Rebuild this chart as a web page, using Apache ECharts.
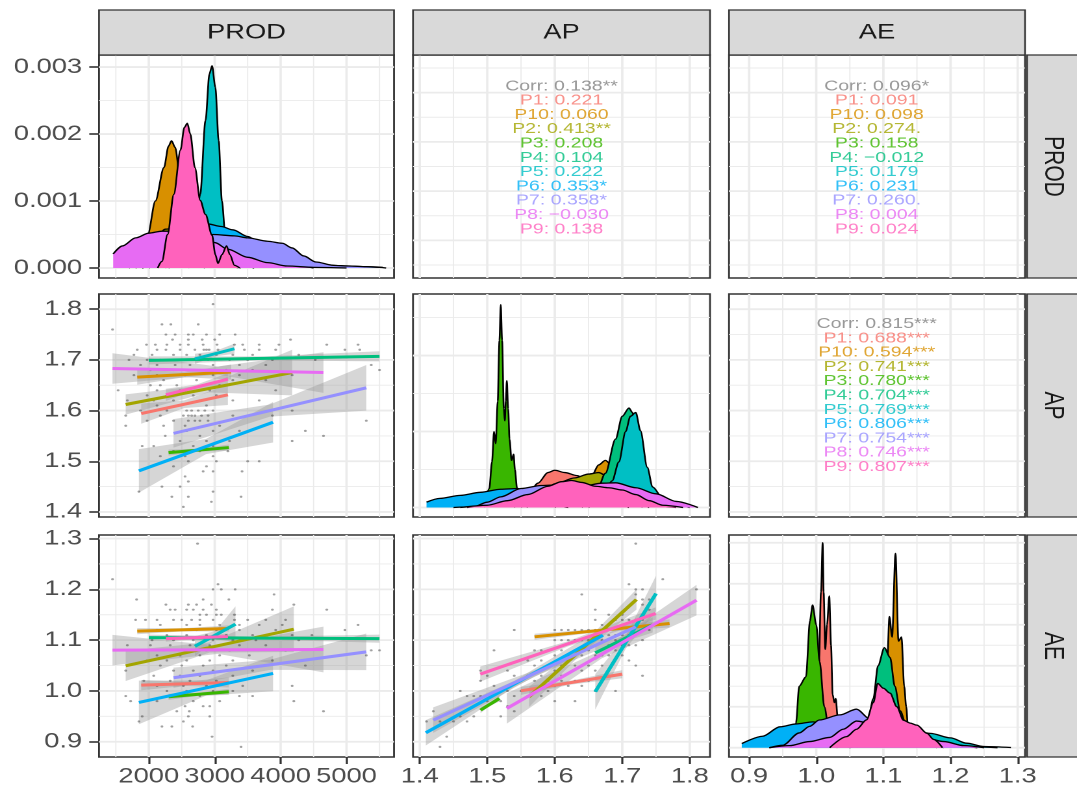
<!DOCTYPE html>
<html>
<head>
<meta charset="utf-8">
<script src="https://cdn.jsdelivr.net/npm/echarts@6.0.0/dist/echarts.min.js"></script>
<style>
  html, body { margin: 0; padding: 0; background: #fff; overflow: hidden; }
  /* the reference is stretched sideways, so the chart is drawn narrower and scaled */
  #main { width: 829px; height: 792px; transform: scaleX(1.29916); transform-origin: 0 0; }
</style>
</head>
<body>
<div id="main"></div>
<script>
var vars = ["PROD", "AP", "AE"];
var groups = ["P1", "P10", "P2", "P3", "P4", "P5", "P6", "P7", "P8", "P9"];
var colors = ["#F8766D", "#D89000", "#A3A500", "#39B600", "#00BF7D", "#00BFC4", "#00B0F6", "#9590FF", "#E76BF3", "#FF62BC"];

// tick labels
var prodTicks = [2000, 3000, 4000, 5000];
var apTicks = [1.4, 1.5, 1.6, 1.7, 1.8];
var aeTicks = [0.9, 1.0, 1.1, 1.2, 1.3];
var densTicks = [0, 0.001, 0.002, 0.003];

// correlation text (overall first, then groups)
var corrProdAp = ["0.138**", "0.221", "0.060", "0.413**", "0.208", "0.104", "0.222", "0.353*", "0.358*", "\u22120.030", "0.138"];
var corrProdAe = ["0.096*", "0.091", "0.098", "0.274.", "0.158", "\u22120.012", "0.179", "0.231", "0.260.", "0.004", "0.024"];
var corrApAe = ["0.815***", "0.688***", "0.594***", "0.741***", "0.780***", "0.704***", "0.769***", "0.806***", "0.754***", "0.746***", "0.807***"];

// densities, one list of [x, density] per group
var densProd = [
  [[1800,0],[2000,0.0002],[2200,0.0004],[2400,0.0005],[2600,0.0005],[2800,0.0004],[3000,0.00025],[3200,0.0001],[3400,0]],
  [[1800,0],[1900,0.0001],[1985,0.0005],[2100,0.001],[2230,0.0015],[2300,0.00182],[2345,0.0019],[2400,0.0018],[2470,0.0014],[2560,0.0008],[2650,0.0003],[2750,0.0001],[2850,0]],
  [[1700,0],[1900,0.0002],[2100,0.00045],[2250,0.00058],[2450,0.0006],[2700,0.00055],[2900,0.0004],[3100,0.0002],[3400,0.00005],[3600,0]],
  [[2250,0],[2400,0.0002],[2600,0.0004],[2800,0.0004],[3000,0.0003],[3200,0.0001],[3350,0]],
  [[1900,0],[2200,0.0001],[2600,0.00018],[3000,0.0002],[3500,0.00018],[4000,0.00012],[4500,0.00006],[5000,0.00003],[5500,0.00001],[5600,0]],
  [[2600,0],[2700,0.0004],[2780,0.0011],[2860,0.0022],[2920,0.0029],[2960,0.00302],[3010,0.0027],[3060,0.0019],[3110,0.001],[3160,0.0005],[3250,0.0002],[3400,0]],
  [[2300,0],[2500,0.0002],[2700,0.00048],[2885,0.00066],[3100,0.00062],[3275,0.00057],[3500,0.00047],[3750,0.0003],[4000,0.00012],[4300,0.00003],[4500,0]],
  [[2000,0],[2200,0.0001],[2500,0.00028],[2800,0.00044],[2975,0.0005],[3300,0.00048],[3500,0.00045],[3800,0.0004],[4025,0.00037],[4175,0.0003],[4350,0.00018],[4535,0.00009],[4800,0.00004],[5030,0.00003],[5300,0.00002],[5550,0.00001]],
  [[1460,0.00021],[1600,0.00033],[1800,0.00045],[2000,0.00052],[2200,0.00055],[2500,0.00055],[2800,0.00048],[3000,0.00038],[3200,0.00028],[3500,0.00016],[3800,0.00008],[4100,0.00003],[4500,0.00001],[5000,0]],
  [[2135,0],[2200,0.0001],[2285,0.0005],[2380,0.0011],[2480,0.00176],[2540,0.0021],[2585,0.00216],[2630,0.002],[2700,0.0015],[2780,0.00101],[2860,0.0008],[2960,0.00049],[3010,0.0002],[3050,0.00007],[3110,0.0002],[3180,0.00033],[3230,0.0002],[3300,0.00004],[3380,0]]
];
var densAp = [
  [[1.54,0],[1.56,1.5],[1.575,3.2],[1.59,4.6],[1.60,4.9],[1.615,4.6],[1.633,4.2],[1.65,3.5],[1.67,1.8],[1.69,0.5],[1.71,0]],
  [[1.60,0],[1.62,1.0],[1.64,2.5],[1.655,4.2],[1.665,5.6],[1.675,6.2],[1.685,5.5],[1.695,3.5],[1.71,1.2],[1.73,0]],
  [[1.55,0],[1.58,2.0],[1.60,3.1],[1.63,3.9],[1.65,4.4],[1.665,4.6],[1.68,4.0],[1.70,2.0],[1.72,0.5],[1.74,0]],
  [[1.495,0],[1.503,2.5],[1.507,6],[1.510,10],[1.5125,8.4],[1.5155,14],[1.518,22],[1.520,26.7],[1.522,22],[1.5245,13],[1.526,11.4],[1.5275,14],[1.529,16.7],[1.531,13],[1.533,9],[1.536,6.2],[1.539,7],[1.541,5],[1.544,2.6],[1.55,0.5],[1.56,0]],
  [[1.64,0],[1.66,1.5],[1.675,4.5],[1.69,9],[1.70,12],[1.71,13.1],[1.715,12.5],[1.72,10.5],[1.73,6],[1.74,3],[1.76,1],[1.78,0]],
  [[1.65,0],[1.67,1],[1.685,3.5],[1.695,6],[1.705,10],[1.712,12],[1.72,12.5],[1.727,10.1],[1.737,5.3],[1.745,2.7],[1.76,1.2],[1.78,0.3],[1.80,0]],
  [[1.41,0.7],[1.43,1.2],[1.46,1.6],[1.49,2.0],[1.52,2.4],[1.545,2.5],[1.56,1.8],[1.58,0.8],[1.60,0.2],[1.62,0]],
  [[1.45,0],[1.48,0.1],[1.50,0.7],[1.52,1.4],[1.55,2.5],[1.58,2.9],[1.61,3.0],[1.64,2.8],[1.67,2.3],[1.70,1.5],[1.73,0.6],[1.76,0.1],[1.78,0]],
  [[1.47,0],[1.52,0.3],[1.56,0.8],[1.60,1.8],[1.64,2.8],[1.67,3.2],[1.69,3.25],[1.72,2.6],[1.75,1.8],[1.78,0.8],[1.812,0]],
  [[1.46,0],[1.50,0.3],[1.53,0.9],[1.56,1.7],[1.59,2.8],[1.61,3.4],[1.625,3.55],[1.64,3.3],[1.66,2.8],[1.68,2.6],[1.70,2.3],[1.72,1.7],[1.74,0.9],[1.76,0.3],[1.79,0]]
];
var densAe = [
  [[0.99,0],[1.0,5],[1.004,21],[1.007,38],[1.0095,50],[1.011,38],[1.0134,24],[1.016,30],[1.0194,37],[1.022,25],[1.0244,13],[1.027,11],[1.029,12],[1.0318,7.6],[1.035,3],[1.04,0.5],[1.05,0]],
  [[1.09,0],[1.1,5],[1.105,18],[1.109,32],[1.113,27],[1.118,47.4],[1.1225,26],[1.127,27],[1.131,15],[1.134,10],[1.137,4],[1.145,0.5],[1.15,0]],
  [[1.03,0],[1.06,2],[1.08,5],[1.10,6],[1.12,4],[1.15,1.5],[1.18,0]],
  [[0.96,0],[0.967,3],[0.9697,6],[0.9746,15],[0.9846,17.3],[0.9906,31],[0.9945,34.8],[1.0,30],[1.005,21],[1.012,10],[1.02,3],[1.03,0]],
  [[1.06,0],[1.075,4],[1.085,12],[1.092,20],[1.1015,24.4],[1.11,22],[1.117,15],[1.125,9],[1.135,5],[1.15,2.5],[1.17,1],[1.19,0]],
  [[1.05,0],[1.08,1],[1.10,3],[1.12,4],[1.14,4.2],[1.17,3.5],[1.2,2.4],[1.224,1.1],[1.25,0.3],[1.29,0.05]],
  [[0.889,1.0],[0.92,2.8],[0.946,5.1],[0.97,5.8],[0.995,6.3],[1.02,5.5],[1.05,4],[1.08,3],[1.11,2.5],[1.14,2.2],[1.17,1.5],[1.2,0.8],[1.24,0.2],[1.27,0]],
  [[0.93,0],[0.95,0.6],[0.9746,3.6],[0.99,5.2],[1.0045,6.75],[1.035,8],[1.06,9.4],[1.08,7],[1.10,4],[1.12,2.5],[1.15,1.5],[1.18,1.0],[1.21,0.4],[1.24,0]],
  [[0.93,0],[0.96,0.5],[0.99,1.5],[1.02,2.5],[1.04,4.5],[1.06,6.5],[1.08,6],[1.10,5],[1.13,3.5],[1.16,2.5],[1.19,1.5],[1.22,0.5],[1.25,0]],
  [[1.02,0],[1.045,2.7],[1.06,4.5],[1.075,6.8],[1.085,11],[1.0915,15.7],[1.1,14.5],[1.11,13.3],[1.12,10],[1.13,6.7],[1.14,6],[1.15,5.5],[1.165,3.5],[1.175,2],[1.188,0]]
];

// fitted lines per group: [x0, y0, x1, y1]
var fitProdAp = [[1885,1.594,3200,1.631],[1825,1.666,3250,1.676],[1650,1.612,4175,1.675],[2300,1.517,3215,1.527],[2000,1.699,5500,1.707],[2700,1.702,3300,1.722],[1850,1.481,3885,1.577],[2375,1.555,5300,1.645],[1450,1.683,4650,1.675],[2260,1.631,3200,1.662]];
var fitProdAe = [[1885,1.0115,3215,1.0167],[1825,1.1177,3215,1.123],[1650,1.0495,4200,1.1216],[2300,0.9885,3215,0.9984],[2000,1.105,5500,1.103],[2700,1.088,3315,1.1315],[1850,0.9774,3885,1.0344],[2375,1.026,5300,1.077],[1450,1.0803,4650,1.0816],[2260,1.103,3200,1.107]];
var fitApAe = [[1.55,1.0003,1.70,1.0331],[1.57,1.1066,1.77,1.1328],[1.562,0.9885,1.721,1.18],[1.49,0.9623,1.518,0.9852],[1.66,1.075,1.745,1.13],[1.66,0.9984,1.75,1.1918],[1.409,0.9177,1.6713,1.1098],[1.42,0.9426,1.72,1.1262],[1.529,0.9656,1.81,1.1787],[1.4896,1.0331,1.7495,1.1525]];

// confidence bands per group: [x, low, high] at start, middle, end
var bandProdAp = [
  [[1885,1.574,1.614],[2540,1.605,1.620],[3200,1.611,1.651]],
  [[1825,1.651,1.681],[2540,1.666,1.676],[3250,1.661,1.691]],
  [[1650,1.592,1.632],[2910,1.636,1.651],[4175,1.630,1.720]],
  [[2300,1.511,1.523],[2760,1.519,1.525],[3215,1.521,1.533]],
  [[2000,1.691,1.707],[3750,1.699,1.707],[5500,1.697,1.717]],
  [[2700,1.692,1.712],[3000,1.707,1.717],[3300,1.712,1.732]],
  [[1850,1.438,1.524],[2868,1.514,1.544],[3885,1.537,1.617]],
  [[2375,1.527,1.583],[3838,1.588,1.612],[5300,1.600,1.690]],
  [[1450,1.653,1.713],[3050,1.671,1.687],[4650,1.635,1.715]],
  [[2260,1.619,1.643],[2730,1.6415,1.6515],[3200,1.650,1.674]]
];
var bandProdAe = [
  [[1885,1.0015,1.0215],[2550,1.0101,1.0181],[3215,1.0067,1.0267]],
  [[1825,1.1117,1.1237],[2520,1.1174,1.1234],[3215,1.117,1.129]],
  [[1650,1.0195,1.0795],[2925,1.0756,1.0956],[4200,1.0766,1.1666]],
  [[2300,0.9825,0.9945],[2758,0.9905,0.9965],[3215,0.9924,1.0044]],
  [[2000,1.099,1.111],[3750,1.101,1.107],[5500,1.095,1.111]],
  [[2700,1.068,1.108],[3008,1.1018,1.1178],[3315,1.0965,1.1665]],
  [[1850,0.9344,1.0204],[2868,0.9909,1.0209],[3885,0.9994,1.0694]],
  [[2375,1.006,1.046],[3838,1.0415,1.0615],[5300,1.041,1.113]],
  [[1450,1.0503,1.1103],[3050,1.073,1.089],[4650,1.0366,1.1266]],
  [[2260,1.097,1.109],[2730,1.102,1.108],[3200,1.101,1.113]]
];
var bandApAe = [
  [[1.55,0.9923,1.0083],[1.625,1.0127,1.0207],[1.70,1.0251,1.0411]],
  [[1.57,1.1006,1.1126],[1.67,1.1167,1.1227],[1.77,1.1248,1.1408]],
  [[1.562,0.9685,1.0085],[1.6415,1.0763,1.0923],[1.721,1.16,1.2]],
  [[1.49,0.9563,0.9683],[1.504,0.9708,0.9768],[1.518,0.9792,0.9912]],
  [[1.66,1.06,1.09],[1.7025,1.0965,1.1085],[1.745,1.115,1.145]],
  [[1.66,0.9634,1.0334],[1.705,1.0831,1.1071],[1.75,1.1568,1.2268]],
  [[1.409,0.8927,0.9427],[1.54,1.0078,1.0198],[1.6713,1.0948,1.1248]],
  [[1.42,0.9176,0.9676],[1.57,1.0284,1.0404],[1.72,1.1112,1.1412]],
  [[1.529,0.9356,0.9956],[1.6695,1.0642,1.0802],[1.81,1.1487,1.2087]],
  [[1.4896,1.0181,1.0481],[1.6196,1.0878,1.0978],[1.7495,1.1405,1.1645]]
];

// raw points, one row per y value: [y, [x, x, ...]]
var ptsProdAp = [
  [1.81,[2975]],[1.77,[2200,2335,2750]],[1.76,[1450]],
  [1.75,[2260,2400,2600,2675,2875,3075,3310]],
  [1.74,[2360,2600,2810,3000,4150]],
  [1.73,[1965,2100,2275,2475,2600,2825,3035,3300,3425,3675,3975,4700,5175]],
  [1.72,[1825,2125,2260,2475,2700,2835,2875,2915,3050,3450,3675,3925,4975,5200]],
  [1.71,[1775,2050,2375,2575,2775,3025,3275,3575,4275]],
  [1.70,[1700,1975,2175,2425,2650,2900,3225,3500,3875,4525]],
  [1.69,[1875,2125,2400,2625,2975,3375,3775,5375]],
  [1.68,[2025,2375,2775,3175,3575,5500]],
  [1.67,[1775,2125,2550,2975,3375,4175]],
  [1.66,[2225,2725,3275,3775]],
  [1.65,[2025,2175,2425,2825,3075]],
  [1.64,[1535,2125,2475,2925,3925]],
  [1.63,[1975,2275,2675,3025]],
  [1.62,[1675,2075,2375,2775,3275,3675]],
  [1.61,[2125,2475,2875]],
  [1.60,[1875,2275,2575,2650,2750,2850,2975,4175]],
  [1.59,[1650,2175,2525,2600,2650,2700,2800,2900,3275,3875]],
  [1.58,[1975,2375,2600,2700,2775,2900,5300]],
  [1.57,[1650,2225,2550,3075]],
  [1.56,[2575,2975,3375,4375]],
  [1.55,[2250,2775,4650]],
  [1.54,[2475,2875,3225,4175]],
  [1.53,[1900,2075,2675,2975]],
  [1.52,[2375,2775,3200]],
  [1.51,[2175,2550,2975]],
  [1.50,[2600,3025,3500,3675]],
  [1.49,[2375,2875]],
  [1.48,[2825,2975,3415]],
  [1.47,[2550]],[1.46,[2600]],[1.45,[2200,2475]],[1.44,[1850,2975]],
  [1.43,[2350,2600,3400]],[1.42,[2950]],[1.41,[2525]]
];
var ptsProdAe = [
  [1.29,[2740]],[1.22,[1450]],[1.21,[3050]],[1.20,[2975,3100,3310]],[1.19,[3900]],
  [1.18,[1815,2825,3215]],
  [1.17,[2260,2600,2725,2950,4200]],
  [1.16,[2325,2400,2575,2675,2825,3025,3875,4700]],
  [1.15,[2775,2875,3025,3100,3300]],
  [1.14,[1800,1950,2125,2375,2500,2650,2775,2975,3300,3500,3775,4075]],
  [1.13,[2175,2575,2775,3075,3375,3675,4025,5175]],
  [1.12,[2125,2425,2725,3025,3375,3925,4975]],
  [1.11,[2275,2575,2875,3175,3575,4175,4475]],
  [1.10,[2050,2375,2675,2975,3275,3625,4275]],
  [1.09,[1675,2025,2325,2625,2925,3375,3775]],
  [1.08,[1875,2225,2575,2875,3225,4075,5375,5500]],
  [1.07,[2125,2475,2775,3075,3525,5300]],
  [1.06,[1975,2275,2575,2925,3275,3875]],
  [1.05,[2175,2500,2825,3175,4375]],
  [1.04,[1650,2375,2675,2975,3575]],
  [1.03,[2075,2475,2775,3275]],
  [1.02,[1925,2325,2625,3025]],
  [1.01,[2125,2525,2875,3425,4175]],
  [1.00,[2275,2575,2975,3275]],
  [0.99,[1650,2475,2775,3375,3575]],
  [0.98,[1725,2125,2675,3075,4200]],
  [0.97,[2550,2825,2925]],
  [0.96,[2425,2615,4650]],
  [0.95,[1900,2600,2925]],
  [0.94,[1850,2525]],
  [0.93,[2200,2350,2665]],
  [0.91,[2960]],[0.89,[3400]]
];
var ptsApAe = [
  [1.29,[1.72]],[1.22,[1.76]],[1.21,[1.71]],[1.20,[1.72,1.73,1.81]],[1.19,[1.64,1.72]],
  [1.18,[1.73,1.74]],[1.17,[1.73]],[1.16,[1.66,1.74]],[1.15,[1.68,1.70]],
  [1.14,[1.66,1.69,1.70,1.71,1.72,1.73]],
  [1.13,[1.67]],
  [1.12,[1.54,1.60,1.61,1.62,1.63,1.64,1.65,1.66,1.67,1.73,1.74]],
  [1.11,[1.68,1.69,1.70,1.71,1.72]],
  [1.10,[1.60,1.61,1.62,1.63,1.64,1.65,1.67,1.69,1.73]],
  [1.09,[1.66,1.68,1.70,1.71,1.72]],
  [1.08,[1.51,1.57,1.58,1.59,1.61,1.63,1.65,1.69]],
  [1.07,[1.60,1.62,1.64,1.66,1.67,1.68,1.70]],
  [1.06,[1.56,1.58,1.62,1.71]],
  [1.05,[1.57,1.59,1.61,1.63,1.65,1.67,1.72]],
  [1.04,[1.49,1.53,1.60,1.64,1.66]],
  [1.03,[1.50,1.54,1.56,1.58,1.61,1.68,1.73]],
  [1.02,[1.49,1.55,1.57,1.59,1.61,1.63,1.65]],
  [1.01,[1.51,1.60,1.62,1.64]],
  [1.00,[1.46,1.52,1.53,1.55,1.57,1.59,1.66,1.69]],
  [0.99,[1.47,1.48,1.49,1.54,1.56,1.58]],
  [0.98,[1.50,1.52,1.60,1.63]],
  [0.97,[1.53]],[0.96,[1.42,1.54]],[0.95,[1.46,1.48,1.52]],
  [0.94,[1.41,1.43,1.45,1.47]],[0.91,[1.44]],[0.89,[1.43]]
];

// ---- layout (reference pixels; x is divided by the stretch) ----
var S = 1077 / 829;
var colX = [99, 413, 729], colW = [295, 297, 296];
var rowY = [55, 294, 535], rowH = [223, 223, 222];
var font = "Liberation Sans";

var xRange = [[1245, 5720], [1.39, 1.83], [0.87, 1.311]];
var rowRange = [[1236, 5764], [1.39, 1.83], [0.87, 1.307]];
var densRange = [[-0.000149, 0.00318], [-1.25, 28.1], [-2.27, 51.9]];

var gridProd = { major: [2000, 3000, 4000, 5000], minor: [1500, 2500, 3500, 4500, 5500] };
var gridAp = { major: [1.4, 1.5, 1.6, 1.7, 1.8], minor: [1.45, 1.55, 1.65, 1.75] };
var gridAe = { major: [0.9, 1.0, 1.1, 1.2, 1.3], minor: [0.95, 1.05, 1.15, 1.25] };
var gridDens = [
  { major: [0, 0.001, 0.002, 0.003], minor: [0.0005, 0.0015, 0.0025] },
  { major: [0, 10, 20], minor: [5, 15, 25] },
  { major: [0, 10, 20, 30, 40, 50], minor: [5, 15, 25, 35, 45] }
];
var varGrid = [gridProd, gridAp, gridAe];

var flat = function (rows) {
  var out = [];
  rows.forEach(function (r) { r[1].forEach(function (x) { out.push([x, r[0]]); }); });
  return out;
};

var grids = [], xAxes = [], yAxes = [], series = [], graphics = [];

var tickStyle = { color: "#333333", width: 1.6 };
var labelStyle = { fontSize: 21, color: "#4D4D4D", fontFamily: font };

for (var r = 0; r < 3; r++) {
  for (var c = 0; c < 3; c++) {
    var gi = r * 3 + c;
    grids.push({
      left: colX[c] / S, top: rowY[r], width: colW[c] / S, height: rowH[r],
      show: true, borderColor: "#333333", borderWidth: 1.4, backgroundColor: "#fff"
    });
    var yr = r === c ? densRange[r] : rowRange[r];
    var xTicks = [prodTicks, apTicks, aeTicks][c];
    var yTicks = [densTicks, apTicks, aeTicks][r];
    xAxes.push({
      type: "value", gridIndex: gi, min: xRange[c][0], max: xRange[c][1],
      axisLine: { show: false, onZero: false }, splitLine: { show: false },
      axisTick: { show: r === 2, customValues: xTicks, length: 7, lineStyle: tickStyle },
      axisLabel: Object.assign({ show: r === 2, customValues: xTicks, margin: 9,
        formatter: c === 0 ? function (v) { return String(v); } : function (v) { return v.toFixed(1); } }, labelStyle)
    });
    yAxes.push({
      type: "value", gridIndex: gi, min: yr[0], max: yr[1],
      axisLine: { show: false, onZero: false }, splitLine: { show: false },
      axisTick: { show: c === 0, customValues: yTicks, length: 7.5, lineStyle: tickStyle },
      axisLabel: Object.assign({ show: c === 0, customValues: yTicks, margin: 13,
        formatter: r === 0 ? function (v) { return v.toFixed(3); } : function (v) { return v.toFixed(1); } }, labelStyle)
    });

    // panel grid lines, placed through the axes
    var gx = varGrid[c], gy = r === c ? gridDens[r] : varGrid[r];
    var gdata = [];
    gx.major.forEach(function (v) { gdata.push([v, 1, 0]); });
    gx.minor.forEach(function (v) { gdata.push([v, 0, 0]); });
    gy.major.forEach(function (v) { gdata.push([v, 1, 1]); });
    gy.minor.forEach(function (v) { gdata.push([v, 0, 1]); });
    (function (xmin, ymin) {
      series.push({
        type: "custom", xAxisIndex: gi, yAxisIndex: gi, silent: true, z: 1, data: gdata,
        renderItem: function (p, api) {
          var v = api.value(0), maj = api.value(1), hor = api.value(2), cs = p.coordSys, shape;
          if (hor) {
            var yy = api.coord([xmin, v])[1];
            shape = { x1: cs.x, y1: yy, x2: cs.x + cs.width, y2: yy };
          } else {
            var xx = api.coord([v, ymin])[0];
            shape = { x1: xx, y1: cs.y, x2: xx, y2: cs.y + cs.height };
          }
          return { type: "line", shape: shape, style: { stroke: "#EBEBEB", lineWidth: maj ? 1.8 : 0.9 } };
        }
      });
    })(xRange[c][0], yr[0]);
  }
}

// diagonal densities; each group gets its own z so later groups cover earlier outlines
[densProd, densAp, densAe].forEach(function (dens, k) {
  var gi = k * 4;
  dens.forEach(function (pts, g) {
    series.push({
      type: "line", xAxisIndex: gi, yAxisIndex: gi, data: pts, z: 2 + g,
      showSymbol: false, symbol: "none", smooth: 0.3, smoothMonotone: "x", silent: true,
      lineStyle: { color: "#000", width: 1.3 },
      areaStyle: { color: colors[g], opacity: 1 }
    });
  });
});

// lower panels: bands, points, fitted lines
function lowerPanel(gi, pts, bands, fits) {
  series.push({
    type: "custom", xAxisIndex: gi, yAxisIndex: gi, silent: true, z: 2, clip: true,
    data: bands.map(function (b) { return [b[1][0], b[1][1]]; }),
    renderItem: function (p, api) {
      var b = bands[p.dataIndex], poly = [];
      b.forEach(function (q) { poly.push(api.coord([q[0], q[1]])); });
      b.slice().reverse().forEach(function (q) { poly.push(api.coord([q[0], q[2]])); });
      return { type: "polygon", shape: { points: poly }, style: { fill: "rgba(153,153,153,0.4)" } };
    }
  });
  series.push({
    type: "scatter", xAxisIndex: gi, yAxisIndex: gi, data: flat(pts), z: 3, silent: true,
    symbolSize: 2.2, itemStyle: { color: "rgba(40,40,40,0.55)" }
  });
  fits.forEach(function (f, g) {
    series.push({
      type: "line", xAxisIndex: gi, yAxisIndex: gi, z: 4, silent: true,
      data: [[f[0], f[1]], [f[2], f[3]]], showSymbol: false, symbol: "none",
      lineStyle: { color: colors[g], width: 3 }
    });
  });
}
lowerPanel(3, ptsProdAp, bandProdAp, fitProdAp);
lowerPanel(6, ptsProdAe, bandProdAe, fitProdAe);
lowerPanel(7, ptsApAe, bandApAe, fitApAe);

// upper panels: correlation text
function corrPanel(gi, anchor, vals) {
  var rich = { c0: { color: "#7F7F7F", fontSize: 15, lineHeight: 14.3, fontFamily: font } };
  var lines = ["{c0|Corr: " + vals[0] + "}"];
  groups.forEach(function (g, i) {
    rich["c" + (i + 1)] = { color: colors[i], fontSize: 15, lineHeight: 14.3, fontFamily: font };
    lines.push("{c" + (i + 1) + "|" + g + ": " + vals[i + 1] + "}");
  });
  series.push({
    type: "scatter", xAxisIndex: gi, yAxisIndex: gi, data: [anchor], z: 3, silent: true,
    symbolSize: 1, itemStyle: { color: "rgba(0,0,0,0)" },
    label: { show: true, position: "inside", align: "center", verticalAlign: "middle",
      formatter: lines.join("\n"), rich: rich }
  });
}
corrPanel(1, [1.61, 3680], corrProdAp);
corrPanel(2, [1.09, 3680], corrProdAe);
corrPanel(5, [1.09, 1.63], corrApAe);

// facet strips
var stripStyle = { fill: "#D9D9D9", stroke: "#333333", lineWidth: 1.3 };
var stripText = { font: "21px " + font, fill: "#1A1A1A", textAlign: "center", textVerticalAlign: "middle",
  align: "center", verticalAlign: "middle" };
for (var i = 0; i < 3; i++) {
  graphics.push({ type: "rect", shape: { x: colX[i] / S, y: 10, width: colW[i] / S, height: 45 }, style: stripStyle, z: 10 });
  graphics.push({ type: "text", x: (colX[i] + colW[i] / 2) / S, y: 32.5, z: 11,
    style: Object.assign({ text: vars[i] }, stripText) });
  graphics.push({ type: "rect", shape: { x: 1027 / S, y: rowY[i], width: 45, height: rowH[i] }, style: stripStyle, z: 10 });
  graphics.push({ type: "text", x: 1052.5 / S, y: rowY[i] + rowH[i] / 2, rotation: -Math.PI / 2, z: 11,
    style: Object.assign({ text: vars[i] }, stripText) });
}

var chart = echarts.init(document.getElementById("main"), null, { renderer: "canvas", devicePixelRatio: 2 });
chart.setOption({
  animation: false,
  backgroundColor: "#fff",
  grid: grids,
  xAxis: xAxes,
  yAxis: yAxes,
  series: series,
  graphic: graphics
});
</script>
</body>
</html>
